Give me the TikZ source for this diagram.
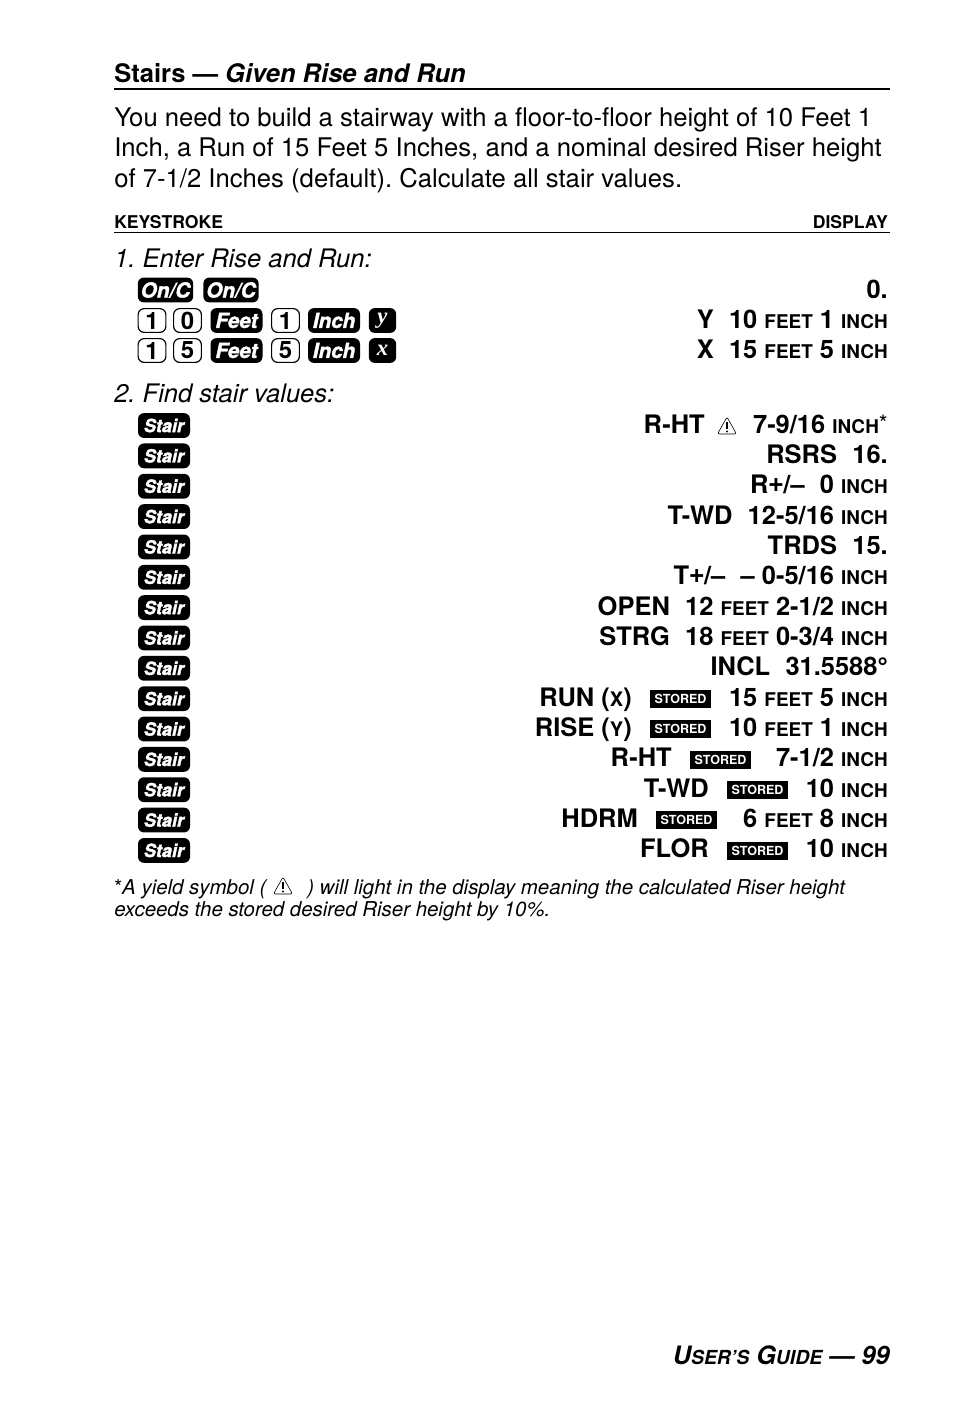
\documentclass[tikz,border=0pt]{standalone}
\usepackage{fontspec}
\setmainfont{TeX Gyre Heros}
\newfontfamily\varfont{Liberation Serif}
\newfontfamily\signfont{Liberation Sans}
\newfontfamily\keyfont[BoldItalicFeatures={FakeBold=1.6}]{TeX Gyre Heros}
\newcommand{\pxfont}[1]{\fontsize{#1}{#1}\selectfont}
\newcommand{\unitw}[1]{{\pxfont{14.2}#1}}
\newcommand{\gap}{\hspace{0.6em}}

\tikzset{
    bodyline/.style={anchor=base west, inner sep=0pt, font=\frenchspacing\pxfont{19.25}},
    stepline/.style={anchor=base west, inner sep=0pt, font=\frenchspacing\pxfont{19.15}\itshape},
    noteline/.style={anchor=base west, inner sep=0pt, font=\frenchspacing\pxfont{15.33}\itshape},
    colhead/.style={inner sep=0pt, font=\pxfont{13.2}\bfseries},
    dispval/.style={anchor=base east, inner sep=0pt, yshift=0.75pt, font=\pxfont{19.1}\bfseries},
    blackkey/.style={fill=black, text=white, rounded corners=4.5pt, inner sep=0pt,
        minimum height=18.6pt, font=\keyfont\pxfont{15.5}\bfseries\itshape},
    stairkey/.style={blackkey, minimum width=39pt, font=\keyfont\pxfont{13.6}\bfseries\itshape},
    funckey/.style={blackkey, minimum width=39pt},
    onkey/.style={blackkey, minimum width=41.5pt},
    varkey/.style={blackkey, minimum width=20.5pt, font=\varfont\pxfont{17}\bfseries\itshape},
    digitkey/.style={draw=black, line width=0.9pt, fill=white, rounded corners=4.5pt, inner sep=0pt,
        minimum width=20.8pt, minimum height=17.8pt, font=\pxfont{18}\bfseries},
    storedtag/.style={fill=black, text=white, inner sep=0pt, minimum width=45.5pt,
        minimum height=13.5pt, font=\pxfont{9.4}\bfseries},
    yieldsign/.pic={
        \draw[line width=0.45pt, rounded corners=1.5pt] (-9.5,8) -- (0,-9) -- (9.5,8) -- cycle;
        \draw[line width=1pt] (0,-4) -- (0,3);
        \fill (0,5.5) circle (1.2);
    },
}

\begin{document}
\begin{tikzpicture}[x=0.75pt, y=-0.75pt]
    \useasboundingbox (0,0) rectangle (954,1406);

    % heading
    \node[bodyline, font=\pxfont{19.15}\bfseries] (title) at (114,82) {Stairs --- \textit{Given Rise and Run}};
    \draw[line width=1.5pt] (114,89) -- (890,89);
    \node[bodyline] (para1) at (114,126) {You need to build a stairway with a floor-to-floor height of 10 Feet 1};
    \node[bodyline] (para2) at (114,156.5) {Inch, a Run of 15 Feet 5 Inches, and a nominal desired Riser height};
    \node[bodyline] (para3) at (114,187) {of 7-1/2 Inches (default). Calculate all stair values.};

    \node[colhead, anchor=base west] (keystroke) at (114,228) {KEYSTROKE};
    \node[colhead, anchor=base east] (display) at (888,228) {DISPLAY};
    \draw[line width=0.6pt] (114,232.5) -- (890,232.5);

    % step 1
    \node[stepline] (step1) at (114,267) {1. Enter Rise and Run:};
    \node[onkey] (on1) at (165.5,290) {On/C};
    \node[onkey] (on2) at (231,290) {On/C};
    \node[digitkey] (ra) at (152,320.5) {1};
    \node[digitkey] (rb) at (187.5,320.5) {0};
    \node[funckey] (rc) at (236.5,320.5) {Feet};
    \node[digitkey] (rd) at (285.5,320.5) {1};
    \node[funckey] (re) at (334,320.5) {Inch};
    \node[varkey] (rf) at (382.5,320.5) {y};
    \node[digitkey] (sa) at (152,350.5) {1};
    \node[digitkey] (sb) at (187.5,350.5) {5};
    \node[funckey] (sc) at (236.5,350.5) {Feet};
    \node[digitkey] (sd) at (285.5,350.5) {5};
    \node[funckey] (se) at (334,350.5) {Inch};
    \node[varkey] (sf) at (382.5,350.5) {x};

    \node[dispval] (d1) at (888,299) {0.};
    \node[dispval] (d2) at (888,329) {Y\gap 10 \unitw{FEET} 1 \unitw{INCH}};
    \node[dispval] (d3) at (888,359) {X\gap 15 \unitw{FEET} 5 \unitw{INCH}};

    % step 2
    \node[stepline] (step2) at (114,402) {2. Find stair values:};
    \foreach \i in {0,...,14}
        \node[stairkey] (stair\i) at (164,{425.5+30.35*\i}) {Stair};

    \node[dispval] (v1) at (888,434) {7-9/16 \unitw{INCH}\raisebox{0.05em}{\pxfont{17}\mdseries*}};
    \pic at (727,426) {yieldsign};
    \node[dispval] (v1a) at (705,434) {R-HT};
    \node[dispval] (v2) at (888,464) {RSRS\gap 16.};
    \node[dispval] (v3) at (888,494) {R{\signfont +}/--\gap 0 \unitw{INCH}};
    \node[dispval] (v4) at (888,525) {T-WD\gap 12-5/16 \unitw{INCH}};
    \node[dispval] (v5) at (888,555) {TRDS\gap 15.};
    \node[dispval] (v6) at (888,585) {T{\signfont +}/--\gap -- 0-5/16 \unitw{INCH}};
    \node[dispval] (v7) at (888,616) {OPEN\gap 12 \unitw{FEET} 2-1/2 \unitw{INCH}};
    \node[dispval] (v8) at (888,646) {STRG\gap 18 \unitw{FEET} 0-3/4 \unitw{INCH}};
    \node[dispval] (v9) at (888,676) {INCL\gap 31.5588{\signfont °}};

    % stored values
    \node[dispval] (runl) at (632,707) {RUN ({\pxfont{15}X})};
    \node[storedtag] (runs) at (680.5,699) {STORED};
    \node[dispval] (runv) at (888,707) {15 \unitw{FEET} 5 \unitw{INCH}};
    \node[dispval] (risel) at (632,737) {RISE ({\pxfont{15}Y})};
    \node[storedtag] (rises) at (680.5,729) {STORED};
    \node[dispval] (risev) at (888,737) {10 \unitw{FEET} 1 \unitw{INCH}};
    \node[dispval] (rhtl) at (672,767) {R-HT};
    \node[storedtag] (rhts) at (720.5,759.5) {STORED};
    \node[dispval] (rhtv) at (888,767) {7-1/2 \unitw{INCH}};
    \node[dispval] (twdl) at (709,798) {T-WD};
    \node[storedtag] (twds) at (757.5,790) {STORED};
    \node[dispval] (twdv) at (888,798) {10 \unitw{INCH}};
    \node[dispval] (hdrml) at (638,828) {HDRM};
    \node[storedtag] (hdrms) at (686.5,820) {STORED};
    \node[dispval] (hdrmv) at (888,828) {6 \unitw{FEET} 8 \unitw{INCH}};
    \node[dispval] (florl) at (709,858) {FLOR};
    \node[storedtag] (flors) at (757.5,850.5) {STORED};
    \node[dispval] (florv) at (888,858) {10 \unitw{INCH}};

    % footnote
    \node[noteline] (note1a) at (114,894.5) {{\upshape *}A yield symbol (};
    \pic at (283,886) {yieldsign};
    \node[noteline] (note1b) at (307,894.5) {) will light in the display meaning the calculated Riser height};
    \node[noteline] (note2) at (114,916) {exceeds the stored desired Riser height by 10\%.};

    % page foot
    \node[dispval, font=\pxfont{19}\bfseries\itshape] (foot) at (890,1365)
        {U{\pxfont{14.5}SER’S} G{\pxfont{14.5}UIDE} --- 99};
\end{tikzpicture}
\end{document}
